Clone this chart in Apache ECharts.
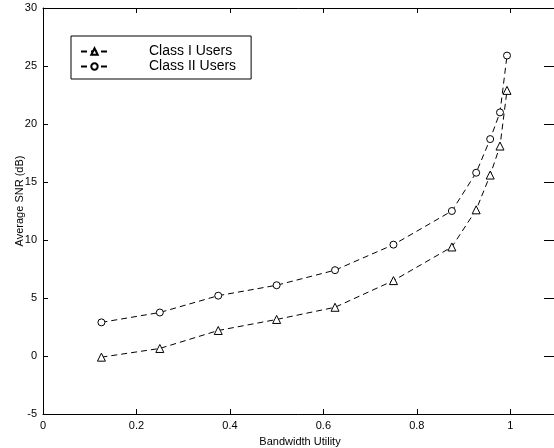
<!DOCTYPE html>
<html>
<head>
<meta charset="utf-8">
<script src="https://cdn.jsdelivr.net/npm/echarts@6/dist/echarts.min.js"></script>
<style>html,body{margin:0;padding:0;background:#fff}#c{width:554px;height:448px}</style>
</head>
<body>
<div id="c"></div>
<script>
const bandwidth = [0.125, 0.25, 0.375, 0.5, 0.625, 0.75, 0.875, 0.927, 0.957, 0.978, 0.993];
const classI = [-0.1, 0.65, 2.2, 3.15, 4.2, 6.5, 9.4, 12.6, 15.6, 18.1, 22.9];
const classII = [2.9, 3.75, 5.2, 6.1, 7.4, 9.6, 12.5, 15.8, 18.7, 21.0, 25.9];
const seriesNames = ['Class I Users', 'Class II Users'];
const xTitle = 'Bandwidth Utility';
const yTitle = 'Average SNR (dB)';

const font = 'Liberation Sans, Arial, Helvetica, sans-serif';
const pairs = (ys) => bandwidth.map((x, i) => [x, ys[i]]);
const lineStyle = { color: '#000', width: 1, type: [6, 4] };
const itemStyle = { color: '#fff', borderColor: '#000', borderWidth: 1 };

const chart = echarts.init(document.getElementById('c'), null, { renderer: 'canvas' });
chart.setOption({
  animation: false,
  backgroundColor: '#fff',
  grid: { left: 43, top: 8, width: 514, height: 406, containLabel: false, outerBoundsMode: 'none' },
  legend: {
    orient: 'vertical',
    left: 71, top: 36,
    padding: [8, 15, 5, 9],
    itemGap: 0,
    itemWidth: 27, itemHeight: 8,
    borderColor: '#000', borderWidth: 1,
    backgroundColor: '#fff',
    textStyle: { fontFamily: font, fontSize: 14, lineHeight: 15, color: '#000', padding: [0, 0, 0, 36] },
    data: seriesNames
  },
  xAxis: [{
    type: 'value', min: 0, max: 1.1, interval: 0.2, position: 'bottom',
    name: xTitle, nameLocation: 'middle', nameGap: 22, nameMoveOverlap: false,
    nameTextStyle: { fontFamily: font, fontSize: 11, color: '#000' },
    axisLine: { show: true, onZero: false, lineStyle: { color: '#000', width: 1 } },
    axisTick: { show: true, inside: true, length: 5, lineStyle: { color: '#000' } },
    axisLabel: { fontFamily: font, fontSize: 11, color: '#000', margin: 6, showMaxLabel: false },
    splitLine: { show: false }
  }, {
    type: 'value', min: 0, max: 1.1, interval: 0.2, position: 'top',
    axisLine: { show: true, onZero: false, lineStyle: { color: '#000', width: 1 } },
    axisTick: { show: true, inside: true, length: 5, lineStyle: { color: '#000' } },
    axisLabel: { show: false }, splitLine: { show: false }
  }],
  yAxis: [{
    type: 'value', min: -5, max: 30, interval: 5, position: 'left',
    name: yTitle, nameLocation: 'middle', nameGap: 18, nameRotate: 90, nameMoveOverlap: false,
    nameTextStyle: { fontFamily: font, fontSize: 11, color: '#000', padding: [0, 0, 0, 20] },
    axisLine: { show: true, onZero: false, lineStyle: { color: '#000', width: 1 } },
    axisTick: { show: true, inside: true, length: 5, lineStyle: { color: '#000' } },
    axisLabel: { fontFamily: font, fontSize: 11, color: '#000', margin: 6 },
    splitLine: { show: false }
  }, {
    type: 'value', min: -5, max: 30, interval: 5, position: 'right',
    axisLine: { show: true, onZero: false, lineStyle: { color: '#000', width: 1 } },
    axisTick: { show: true, inside: true, length: 13, lineStyle: { color: '#000' } },
    axisLabel: { show: false }, splitLine: { show: false }
  }],
  series: [{
    name: seriesNames[0], type: 'line', data: pairs(classI),
    symbol: 'triangle', symbolSize: 8, showAllSymbol: true,
    lineStyle: lineStyle, itemStyle: itemStyle, z: 3
  }, {
    name: seriesNames[1], type: 'line', data: pairs(classII),
    symbol: 'circle', symbolSize: 7, showAllSymbol: true,
    lineStyle: lineStyle, itemStyle: itemStyle, z: 3
  }]
});
</script>
</body>
</html>
